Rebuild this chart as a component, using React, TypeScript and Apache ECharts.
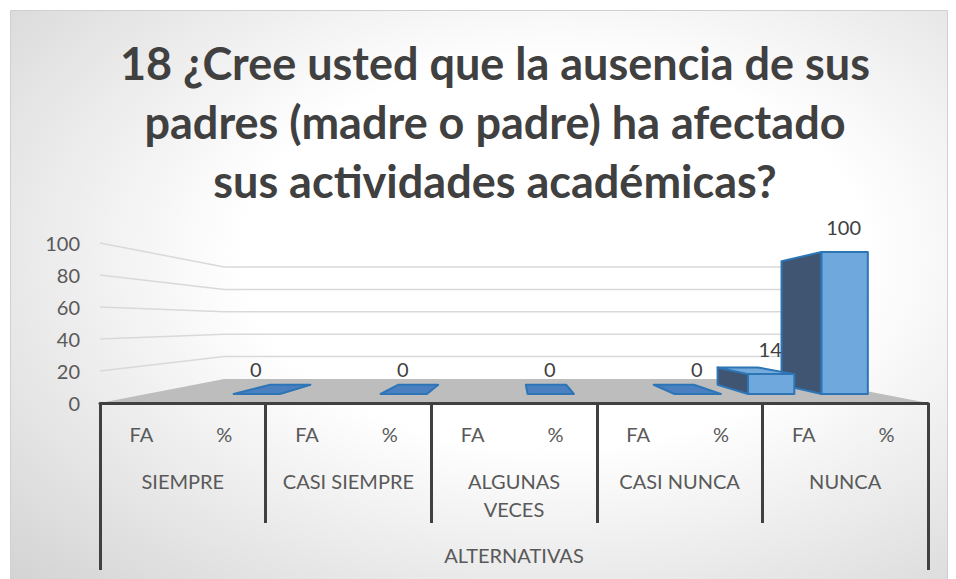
import React, { useEffect, useRef } from "react";
import * as echarts from "echarts";

const titleLines = [
  "18 ¿Cree usted que la ausencia de sus",
  "padres (madre o padre) ha afectado",
  "sus actividades académicas?",
];
const groups = ["SIEMPRE", "CASI SIEMPRE", "ALGUNAS VECES", "CASI NUNCA", "NUNCA"];
const subCats = ["FA", "%"];
const faValues: (number | null)[] = [null, null, null, null, 14];
const pctValues: (number | null)[] = [0, 0, 0, 0, 100];
const valueTicks = [0, 20, 40, 60, 80, 100];
const axisTitle = "ALTERNATIVAS";

const FONT = "Lato";
const BACK = 0.7;
const BAR_FRONT = 0.8875;
const BAR_BACK = 0.772;

export default function App() {
  const ref = useRef<HTMLDivElement>(null);
  useEffect(() => {
    if (!ref.current) return;
    const chart = echarts.init(ref.current, null, { renderer: "svg" });
    const cats: string[] = [];
    groups.forEach(() => subCats.forEach((s) => cats.push(s)));
    const barData: number[][] = [];
    groups.forEach((_, g) => {
      if (faValues[g] !== null) barData.push([g * 2, faValues[g] as number]);
      if (pctValues[g] !== null) barData.push([g * 2 + 1, pctValues[g] as number]);
    });

    const proj = (cs: any) => {
      const vx = cs.x + cs.width / 2;
      const vy = cs.y + cs.height / 2;
      return {
        vx,
        vy,
        P: (x: number, y: number, s: number) => [vx + (x - vx) * s, vy + (y - vy) * s],
      };
    };

    const sceneRender = (params: any, api: any) => {
      const cs = params.coordSys;
      const { P } = proj(cs);
      const v = api.value(1);
      const y = api.coord([0, v])[1];
      const x0 = cs.x;
      const x1 = cs.x + cs.width;
      if (v === 0) {
        return {
          type: "polygon",
          shape: { points: [[x0, y], [x1, y], P(x1, y, BACK), P(x0, y, BACK)] },
          style: { fill: "#bdbdbd" },
          z2: 0,
        };
      }
      return {
        type: "polyline",
        shape: { points: [[x0, y], P(x0, y, BACK), P(x1, y, BACK)] },
        style: { stroke: "#d9d9d9", lineWidth: 1.5, fill: "none" },
        z2: 1,
      };
    };

    const barRender = (params: any, api: any) => {
      const cs = params.coordSys;
      const { vx, vy, P } = proj(cs);
      const idx = api.value(0);
      const v = api.value(1);
      const b = api.coord([idx, 0]);
      const t = api.coord([idx, v]);
      const w = api.size([1, 0])[0] * 0.63;
      const xl = b[0] - w / 2;
      const xr = b[0] + w / 2;
      const yb = b[1];
      const yt = t[1];
      const h = yb - yt;
      const base = (1000 - Math.round(Math.abs(b[0] - vx))) * 4;
      const edge = { stroke: "#2e75b6", lineWidth: 2, lineJoin: "round" };
      const children: any[] = [];
      const sideX = b[0] > vx ? xl : xr;
      if (h > 0.5) {
        children.push({
          type: "polygon",
          shape: { points: [P(sideX, yb, BAR_FRONT), P(sideX, yt, BAR_FRONT), P(sideX, yt, BAR_BACK), P(sideX, yb, BAR_BACK)] },
          style: { fill: "#3f5572", ...edge },
          z2: base,
        });
      }
      if (yt > vy) {
        children.push({
          type: "polygon",
          shape: { points: [P(xl, yt, BAR_FRONT), P(xr, yt, BAR_FRONT), P(xr, yt, BAR_BACK), P(xl, yt, BAR_BACK)] },
          style: { fill: h > 0.5 ? "#74abdd" : "#4a80c0", ...edge },
          z2: base + 1,
        });
      }
      if (h > 0.5) {
        children.push({
          type: "polygon",
          shape: { points: [P(xl, yb, BAR_FRONT), P(xr, yb, BAR_FRONT), P(xr, yt, BAR_FRONT), P(xl, yt, BAR_FRONT)] },
          style: { fill: "#6fa8dc", ...edge },
          z2: base + 2,
        });
      }
      return { type: "group", children };
    };

    const labelRender = (params: any, api: any) => {
      const { P } = proj(params.coordSys);
      const idx = api.value(0);
      const v = api.value(1);
      const t = api.coord([idx, v]);
      const lp = P(t[0], t[1], BAR_FRONT);
      return {
        type: "text",
        style: {
          text: String(v),
          x: lp[0] - 1,
          y: lp[1] - 25,
          align: "center",
          verticalAlign: "middle",
          fill: "#404040",
          fontSize: 20,
          fontFamily: FONT,
        },
      };
    };

    const labelStyle = { color: "#595959", fontSize: 20, fontFamily: FONT };

    const option: any = {
      animation: false,
      title: {
        text: titleLines.join("\n"),
        left: 490,
        top: 28,
        textAlign: "center",
        textStyle: {
          fontFamily: FONT,
          fontWeight: "bold",
          fontSize: 45,
          lineHeight: 59,
          color: "#404040",
        },
      },
      graphic: [
        {
          type: "rect",
          z: -100,
          silent: true,
          shape: { x: 10.5, y: 10.5, width: 937, height: 580 },
          style: {
            fill: new echarts.graphic.RadialGradient(0.58, 0.42, 0.95, [
              { offset: 0, color: "#ffffff" },
              { offset: 0.35, color: "#ffffff" },
              { offset: 1, color: "#c6c6c6" },
            ]),
            stroke: "#d0d0d0",
            lineWidth: 1,
          },
        },
      ],
      grid: { left: 100, right: 28, top: 243, bottom: 176, containLabel: false },
      xAxis: [
        {
          type: "category",
          data: cats,
          position: "bottom",
          z: 5,
          axisLine: { show: true, lineStyle: { color: "#404040", width: 3 } },
          axisTick: { show: false },
          axisLabel: { interval: 0, margin: 21, ...labelStyle },
        },
        {
          type: "category",
          data: groups,
          position: "bottom",
          z: 5,
          axisLine: { show: false },
          axisTick: { show: true, length: 120, lineStyle: { color: "#404040", width: 3 } },
          axisLabel: {
            interval: 0,
            margin: 64,
            lineHeight: 28,
            ...labelStyle,
            formatter: (val: string) => (val.length > 12 ? val.replace(" ", "\n") : val),
          },
        },
        {
          type: "category",
          data: [axisTitle],
          position: "bottom",
          z: 5,
          axisLine: { show: false },
          axisTick: { show: true, length: 167, lineStyle: { color: "#404040", width: 3 } },
          axisLabel: { margin: 142, ...labelStyle },
        },
      ],
      yAxis: {
        type: "value",
        min: 0,
        max: 100,
        interval: 20,
        axisLine: { show: false },
        axisTick: { show: false },
        splitLine: { show: false },
        axisLabel: { margin: 20, ...labelStyle },
      },
      series: [
        {
          type: "custom",
          name: "scene",
          xAxisIndex: 0,
          z: 1,
          silent: true,
          renderItem: sceneRender,
          data: valueTicks.map((v) => [0, v]),
        },
        {
          type: "custom",
          name: "valores",
          xAxisIndex: 0,
          z: 3,
          renderItem: barRender,
          data: barData,
        },
        {
          type: "custom",
          name: "etiquetas",
          xAxisIndex: 0,
          z: 4,
          silent: true,
          renderItem: labelRender,
          data: barData,
        },
      ],
    };
    chart.setOption(option);
    return () => chart.dispose();
  }, []);
  return (
    <div
      ref={ref}
      style={{ position: "absolute", left: 0, top: 0, width: 956, height: 579, background: "#ffffff" }}
    />
  );
}
